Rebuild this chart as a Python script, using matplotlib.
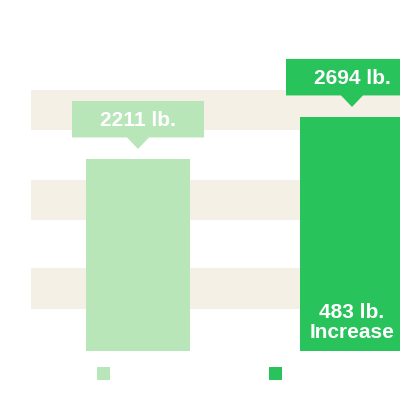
import matplotlib
matplotlib.use("Agg")
import matplotlib.pyplot as plt
from matplotlib.patches import Polygon, Rectangle
from matplotlib.transforms import Affine2D, ScaledTranslation

# Data
categories = ["Before", "After"]
weights = [2211, 2694]
box_labels = ["2211 lb.", "2694 lb."]
increase_label = "483 lb.\nIncrease"
bands = [(490, 955), (1505, 1970), (2545, 3010)]

light = "#b8e6b9"
dark = "#29c35b"
band_color = "#f4f0e6"
colors = [light, dark]

plt.rcParams['font.family'] = ['Liberation Sans', 'DejaVu Sans']

fig = plt.figure(figsize=(4, 4), dpi=100)
# axes runs off the right edge, like the cropped original
ax = fig.add_axes([31 / 400, 48.7 / 400, 428 / 400, 261 / 400])
ax.set_xlim(-0.5, 1.5)
ax.set_ylim(0, 3000)
ax.axis("off")

for lo, hi in bands:
    ax.axhspan(lo, hi, color=band_color, lw=0, zorder=0)

xs = list(range(len(categories)))
ax.bar(xs, weights, width=0.486, color=colors, zorder=2)

# label boxes with a small pointer, sized in pixels
for x, w, lab, c in zip(xs, weights, box_labels, colors):
    half = 66
    verts = [(-half, 58), (half, 58), (half, 21.5), (11, 21.5), (0, 10),
             (-11, 21.5), (-half, 21.5)]
    tr = Affine2D() + ScaledTranslation(x, w, ax.transData)
    ax.add_patch(Polygon(verts, closed=True, color=c, lw=0,
                         transform=tr, clip_on=False, zorder=3))
    ax.annotate(lab, (x, w), xytext=(0, 40 * 0.72), textcoords="offset points",
                ha="center", va="center_baseline", color="white",
                fontsize=15, fontweight="bold", zorder=4, annotation_clip=False)

ax.annotate(increase_label, (1, 0), xytext=(0, 6.7), textcoords="offset points",
            ha="center", va="bottom", color="white", fontsize=15,
            fontweight="bold", linespacing=1.05, zorder=4)

# legend squares (labels are not shown in the original)
for px, c in zip([97, 269], colors):
    fig.add_artist(Rectangle((px / 400, 20 / 400), 13 / 400, 13 / 400,
                             color=c, lw=0, transform=fig.transFigure))

fig.savefig("out.png", dpi=100)
